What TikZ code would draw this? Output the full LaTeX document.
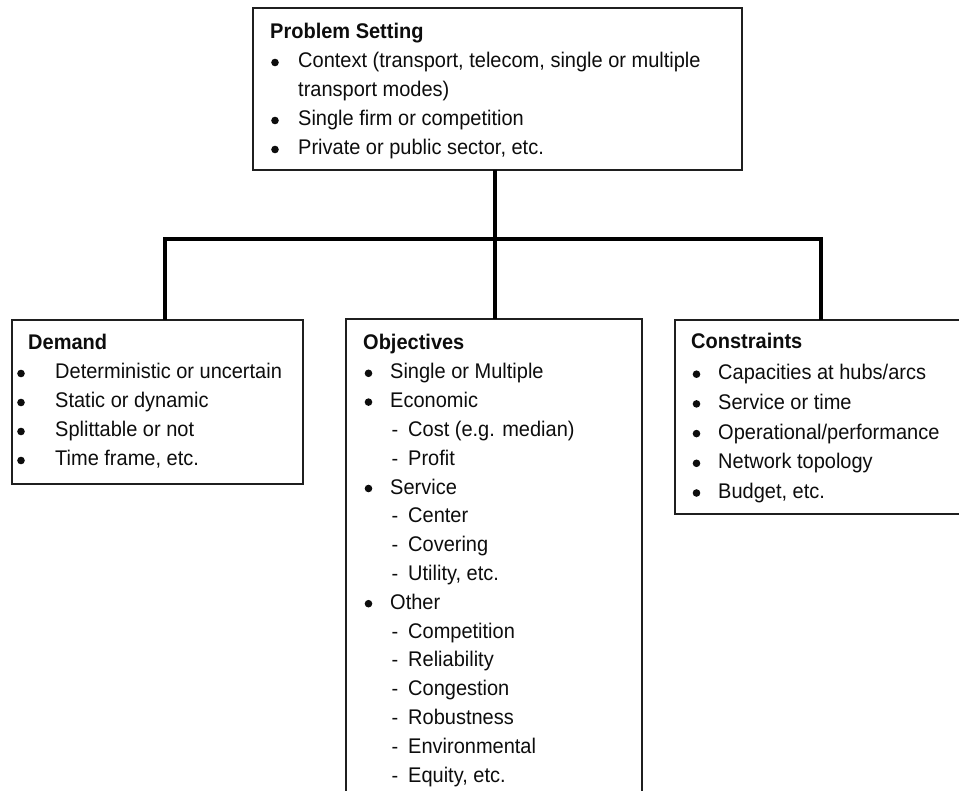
\documentclass[tikz,border=0pt]{standalone}
\usepackage{fontspec}
\setmainfont{Liberation Sans}
\newcommand{\tl}[1]{\scalebox{1}[1.06]{#1}}
\begin{document}
\begin{tikzpicture}[x=1pt,y=1pt,
  box/.style={draw=black!88,line width=1.7pt,fill=white,anchor=north west,inner sep=0pt,outer sep=0pt},
  conn/.style={draw=black,line width=3.8pt,line join=miter},
  txt/.style={anchor=base west,inner sep=0pt,font=\fontsize{20}{24}\selectfont,text=black!95},
  hdr/.style={txt,font=\fontsize{20}{24}\selectfont\bfseries},
  dsh/.style={anchor=base,inner sep=0pt,font=\fontsize{20}{24}\selectfont,text=black!95},
  bul/.style={circle,fill=black!95,inner sep=0pt,minimum size=7.6pt}]
\useasboundingbox (0,0) rectangle (959,-791);
\begin{scope}
\clip (0,0) rectangle (959,-791);
% boxes
\node[box,minimum width=489pt,minimum height=162pt] (top) at (253,-8) {};
\node[box,minimum width=291pt,minimum height=164pt] (dem) at (12,-320) {};
\node[box,minimum width=296pt,minimum height=520pt] (obj) at (346,-319) {};
\node[box,minimum width=330pt,minimum height=194pt] (con) at (675,-320) {};
% junction coordinates
\coordinate (mid) at (495,-239);
\coordinate (dj) at (165,-239);
\coordinate (cj) at (821,-239);
% connectors
\draw[conn] (mid |- top.south) -- (mid |- obj.north);
\draw[conn] (dj |- dem.north) -- (dj) -- (cj) -- (cj |- con.north);
\end{scope}
% Problem setting text
\node[hdr] (t0) at (270,-39) {\tl{Problem Setting}};
\node[bul] (tb1) at (275,-62.5) {};
\node[txt] (t1) at (298,-68) {\tl{Context (transport, telecom, single or multiple}};
\node[txt] (t2) at (298,-97) {\tl{transport modes)}};
\node[bul] (tb3) at (275,-120.5) {};
\node[txt] (t3) at (298,-126) {\tl{Single firm or competition}};
\node[bul] (tb4) at (275,-149.5) {};
\node[txt] (t4) at (298,-155) {\tl{Private or public sector, etc.}};
% Demand text
\node[hdr] (d0) at (28,-350) {\tl{Demand}};
\node[bul] (db1) at (21,-373.5) {};
\node[txt] (d1) at (55,-379) {\tl{Deterministic or uncertain}};
\node[bul] (db2) at (21,-402.5) {};
\node[txt] (d2) at (55,-408) {\tl{Static or dynamic}};
\node[bul] (db3) at (21,-431.5) {};
\node[txt] (d3) at (55,-437) {\tl{Splittable or not}};
\node[bul] (db4) at (21,-460.5) {};
\node[txt] (d4) at (55,-466) {\tl{Time frame, etc.}};
% Objectives text
\node[hdr] (o0) at (363,-350) {\tl{Objectives}};
\node[bul] (ob1) at (368.5,-373.3) {};
\node[txt] (o1) at (390,-378.8) {\tl{Single or Multiple}};
\node[bul] (ob2) at (368.5,-402.1) {};
\node[txt] (o2) at (390,-407.6) {\tl{Economic}};
\node[dsh] (od3) at (395,-436.4) {-};
\node[txt] (o3) at (408,-436.4) {\tl{Cost (e.g. median)}};
\node[dsh] (od4) at (395,-465.2) {-};
\node[txt] (o4) at (408,-465.2) {\tl{Profit}};
\node[bul] (ob5) at (368.5,-488.5) {};
\node[txt] (o5) at (390,-494) {\tl{Service}};
\node[dsh] (od6) at (395,-522.8) {-};
\node[txt] (o6) at (408,-522.8) {\tl{Center}};
\node[dsh] (od7) at (395,-551.6) {-};
\node[txt] (o7) at (408,-551.6) {\tl{Covering}};
\node[dsh] (od8) at (395,-580.4) {-};
\node[txt] (o8) at (408,-580.4) {\tl{Utility, etc.}};
\node[bul] (ob9) at (368.5,-603.7) {};
\node[txt] (o9) at (390,-609.2) {\tl{Other}};
\node[dsh] (od10) at (395,-638) {-};
\node[txt] (o10) at (408,-638) {\tl{Competition}};
\node[dsh] (od11) at (395,-666.8) {-};
\node[txt] (o11) at (408,-666.8) {\tl{Reliability}};
\node[dsh] (od12) at (395,-695.6) {-};
\node[txt] (o12) at (408,-695.6) {\tl{Congestion}};
\node[dsh] (od13) at (395,-724.4) {-};
\node[txt] (o13) at (408,-724.4) {\tl{Robustness}};
\node[dsh] (od14) at (395,-753.2) {-};
\node[txt] (o14) at (408,-753.2) {\tl{Environmental}};
\node[dsh] (od15) at (395,-782) {-};
\node[txt] (o15) at (408,-782) {\tl{Equity, etc.}};
% Constraints text
\node[hdr] (c0) at (691,-349) {\tl{Constraints}};
\node[bul] (cb1) at (696.5,-374.2) {};
\node[txt] (c1) at (718,-379.7) {\tl{Capacities at hubs/arcs}};
\node[bul] (cb2) at (696.5,-403.9) {};
\node[txt] (c2) at (718,-409.4) {\tl{Service or time}};
\node[bul] (cb3) at (696.5,-433.6) {};
\node[txt] (c3) at (718,-439.1) {\tl{Operational/performance}};
\node[bul] (cb4) at (696.5,-463.3) {};
\node[txt] (c4) at (718,-468.8) {\tl{Network topology}};
\node[bul] (cb5) at (696.5,-493) {};
\node[txt] (c5) at (718,-498.5) {\tl{Budget, etc.}};
\end{tikzpicture}
\end{document}
